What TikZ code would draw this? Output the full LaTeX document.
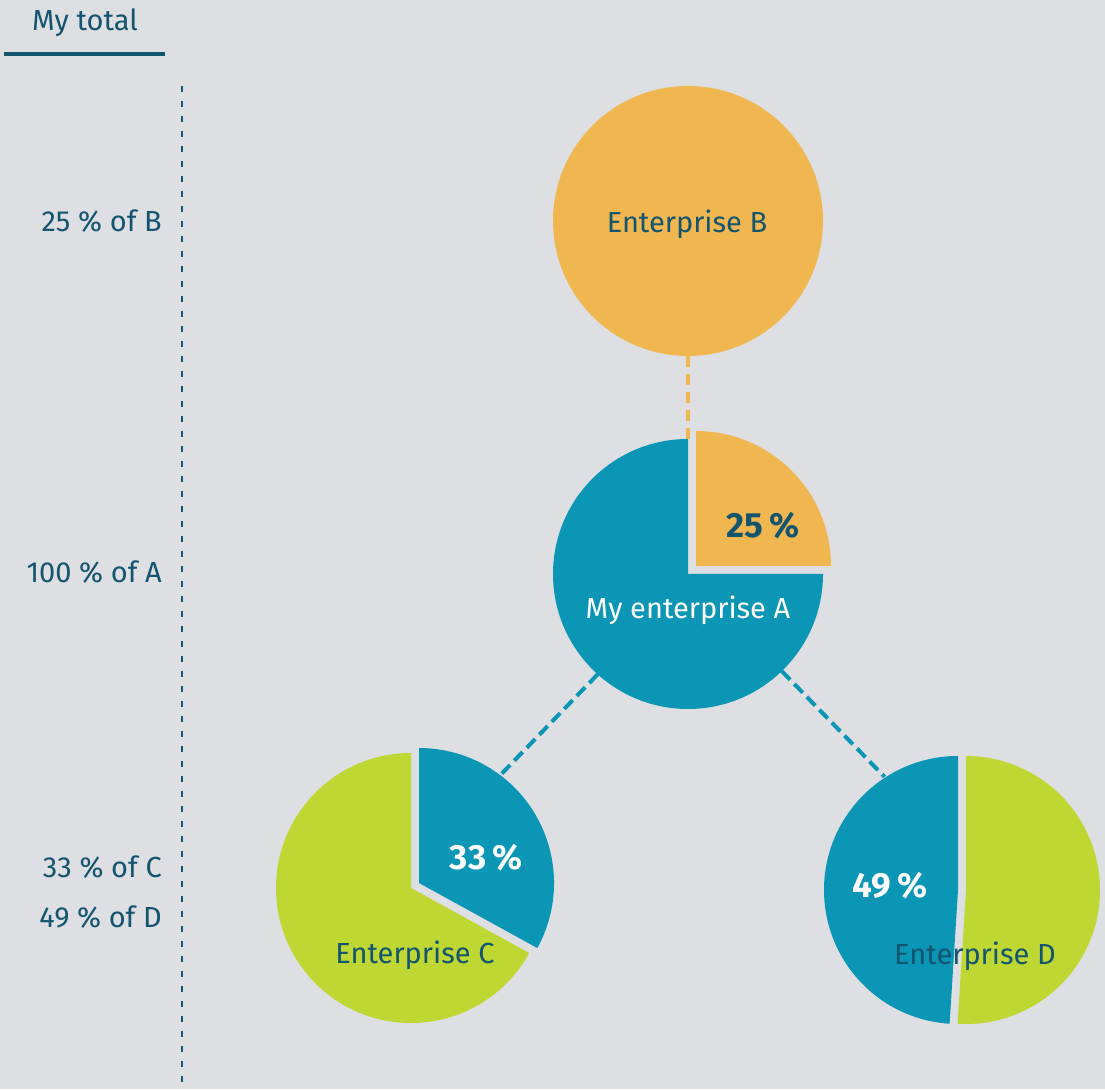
\documentclass[tikz,border=0pt]{standalone}
\usepackage{fontspec}
\setmainfont{Fira Sans}
\definecolor{bg}{HTML}{DDDFE2}
\definecolor{tealc}{HTML}{0A96B4}
\definecolor{orangec}{HTML}{F0B650}
\definecolor{greenc}{HTML}{BED732}
\definecolor{darkc}{HTML}{13546E}
\begin{document}
\begin{tikzpicture}[x=1pt,y=1pt,
  ref/.style={circle,minimum size=270pt,inner sep=0pt,outer sep=0pt},
  lbl/.style={font=\fontsize{29}{33}\selectfont,text=darkc,anchor=base,inner sep=0pt},
  side/.style={lbl,anchor=base east},
  pct/.style={font=\fontsize{35}{38}\selectfont\bfseries,anchor=base,inner sep=0pt},
  link/.style={line width=4pt,dash pattern=on 12pt off 6pt,tealc},
  linkB/.style={line width=3.5pt,dash pattern=on 11pt off 7pt,orangec}]
\fill[bg] (0,0) rectangle (1105,1089);
\useasboundingbox (0,0) rectangle (1105,1089);

% axis
\node[lbl] (tot) at (85,1058) {My total};
\coordinate (hl) at (4,1035);
\coordinate (hr) at (165,1035);
\draw[darkc,line width=3.5pt] (hl) -- (hr);
\coordinate (vt) at (182,1003);
\coordinate (vb) at (182,0);
\draw[darkc,line width=2.3pt,dash pattern=on 6.5pt off 8.5pt] (vt) -- (vb);
\node[side] (lB) at (162,857) {25 \% of B};
\node[side] (lA) at (162,506) {100 \% of A};
\node[side] (lC) at (162,211) {33 \% of C};
\node[side] (lD) at (162,161) {49 \% of D};

% reference circles
\node[ref] (B) at (688,868) {};
\node[ref] (A) at (688,515) {};
\node[ref] (C) at (411,201) {};
\node[ref] (Cs) at (419,206) {};
\node[ref] (D) at (966,199) {};
\node[ref] (Ds) at (958,199) {};

% connectors
\draw[linkB] (B.south) -- (A.north);
\draw[link] (A.228.3) -- (Cs.53.9);
\draw[link] (A.-46.8) -- (Ds.123);

% B
\fill[orangec] (B.center) circle (135);
% A
\fill[tealc] (A.center) -- ++(90:135) arc (90:360:135) -- cycle;
\fill[orangec] (696,523) -- ++(0:135) arc (0:90:135) -- cycle;
% C
\fill[greenc] (C.center) -- ++(90:135) arc (90:331.2:135) -- cycle;
\fill[tealc] (Cs.center) -- ++(-28.8:135) arc (-28.8:90:135) -- cycle;
% D
\fill[tealc] (Ds.center) -- ++(90:134) arc (90:266.4:134) -- cycle;
\fill[greenc] (D.center) -- ++(-93.6:134) arc (-93.6:90:134) -- cycle;

% texts
\node[lbl] (tB) at (687,856) {Enterprise B};
\node[lbl,text=white] (tA) at (688,470) {My enterprise A};
\node[pct,text=darkc] (pA) at (763,551) {25\,\%};
\node[pct,text=white] (pC) at (486,219) {33\,\%};
\node[pct,text=white] (pD) at (890,191) {49\,\%};
\node[lbl] (tC) at (415,125) {Enterprise C};
\node[lbl] (tD) at (975,124) {Enterprise D};
\end{tikzpicture}
\end{document}
